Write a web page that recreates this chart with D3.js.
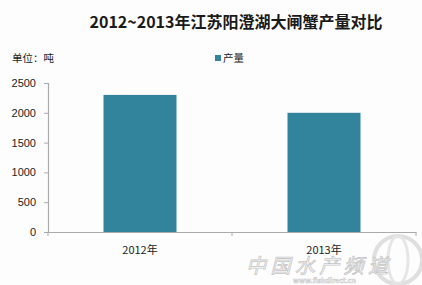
<!DOCTYPE html>
<html>
<head>
<meta charset="utf-8">
<script src="https://cdn.jsdelivr.net/npm/d3@7"></script>
<style>
  body { margin: 0; background: #fff; }
  text { font-family: "Noto Sans CJK SC", "DejaVu Sans", sans-serif; }
</style>
</head>
<body>
<svg width="422" height="285"></svg>
<script>
const years = ["2012年", "2013年"];
const output = [2300, 2000];
const yTicks = [0, 500, 1000, 1500, 2000, 2500];

const svg = d3.select("svg");
const m = { left: 48, right: 416, top: 83, bottom: 232 };

const x = d3.scaleBand().domain(years).range([m.left, m.right]).paddingInner(0).paddingOuter(0);
const y = d3.scaleLinear().domain([0, 2500]).range([m.bottom, m.top]);

svg.append("rect").attr("width", 422).attr("height", 285).attr("fill", "#fdfdfd");

// title
svg.append("text")
  .attr("x", 236).attr("y", 28)
  .attr("text-anchor", "middle")
  .attr("font-size", 16).attr("font-weight", "bold")
  .attr("fill", "#1a1a1a")
  .text("2012~2013年江苏阳澄湖大闸蟹产量对比");

svg.append("text")
  .attr("x", 12).attr("y", 62)
  .attr("font-size", 10.5).attr("fill", "#222")
  .text("单位：吨");

// legend
svg.append("rect").attr("x", 215).attr("y", 55).attr("width", 6).attr("height", 6).attr("fill", "#31849b");
svg.append("text").attr("x", 223).attr("y", 62).attr("font-size", 10.5).attr("fill", "#222").text("产量");

// y axis
const yAxis = svg.append("g").attr("transform", `translate(${m.left},0)`)
  .call(d3.axisLeft(y).tickValues(yTicks).tickFormat(d3.format("d")).tickSize(4).tickPadding(8));
yAxis.select(".domain").attr("stroke", "#aaa").attr("stroke-width", 1.2);
yAxis.selectAll(".tick line").attr("stroke", "#aaa");
yAxis.selectAll(".tick text").attr("font-size", 11).attr("fill", "#222")
  .style("font-family", "'Liberation Sans', 'DejaVu Sans', sans-serif");

// bars
svg.selectAll("rect.bar").data(years).enter().append("rect")
  .attr("class", "bar")
  .attr("x", d => x(d) + x.bandwidth() / 2 - 36.5)
  .attr("width", 73)
  .attr("y", (d, i) => y(output[i]))
  .attr("height", (d, i) => y(0) - y(output[i]))
  .attr("fill", "#31849b");

// x axis
const xAxis = svg.append("g").attr("transform", `translate(0,${m.bottom})`)
  .call(d3.axisBottom(x).tickSize(0).tickPadding(14));
xAxis.select(".domain").attr("stroke", "#aaa").attr("stroke-width", 1.2);
xAxis.selectAll(".tick text").attr("font-size", 11).attr("fill", "#222");
svg.append("g").selectAll("line").data(years.concat(["end"])).enter().append("line")
  .attr("x1", d => d === "end" ? m.right : x(d)).attr("x2", d => d === "end" ? m.right : x(d))
  .attr("y1", m.bottom).attr("y2", m.bottom + 4)
  .attr("stroke", "#aaa");

// watermark
const wm = svg.append("g").attr("opacity", 0.55);
wm.append("circle").attr("cx", 398).attr("cy", 260).attr("r", 24)
  .attr("fill", "none").attr("stroke", "#c8c8c8").attr("stroke-width", 4);
wm.append("ellipse").attr("cx", 398).attr("cy", 260).attr("rx", 10).attr("ry", 24)
  .attr("fill", "none").attr("stroke", "#d4d4d4").attr("stroke-width", 3);
wm.append("text")
  .attr("x", 246).attr("y", 273)
  .attr("font-size", 20).attr("font-style", "italic")
  .attr("textLength", 142)
  .attr("fill", "#fff").attr("stroke", "#999").attr("stroke-width", 0.8)
  .text("中国水产频道");
wm.append("text")
  .attr("x", 293).attr("y", 283)
  .attr("font-size", 7).attr("font-weight", "bold")
  .attr("fill", "#fff").attr("stroke", "#999").attr("stroke-width", 0.5)
  .text("www.fishdirect.cn");
</script>
</body>
</html>
